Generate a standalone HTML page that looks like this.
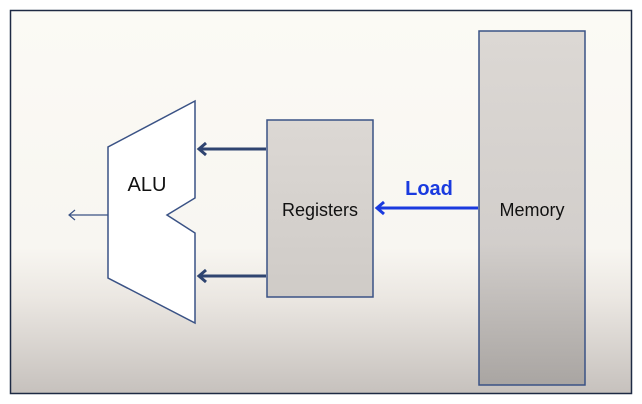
<!DOCTYPE html>
<html><head><style>
html,body{margin:0;padding:0;width:642px;height:404px;overflow:hidden;background:#fff}
</style></head><body>
<svg width="642" height="404" xmlns="http://www.w3.org/2000/svg">
<defs>
<linearGradient id="bg" x1="0" y1="0" x2="0" y2="1">
<stop offset="0" stop-color="#fbfaf5"/>
<stop offset="0.62" stop-color="#f8f6f1"/>
<stop offset="0.75" stop-color="#ebe7e2"/>
<stop offset="1" stop-color="#c6c1bd"/>
</linearGradient>
<linearGradient id="box" x1="0" y1="0" x2="0" y2="1">
<stop offset="0" stop-color="#dcd8d4"/>
<stop offset="1" stop-color="#cfcbc7"/>
</linearGradient>
<linearGradient id="mem" x1="0" y1="0" x2="0" y2="1">
<stop offset="0" stop-color="#dcd8d4"/>
<stop offset="0.6" stop-color="#d2cecb"/>
<stop offset="1" stop-color="#a9a5a2"/>
</linearGradient>
</defs>
<rect x="0" y="0" width="642" height="404" fill="#fff"/>
<rect x="10.5" y="10.5" width="621" height="383" fill="url(#bg)" stroke="#1e2a44" stroke-width="1.5"/>
<polygon points="195,101 108,147 108,278 195,323 195,233 167,215 195,198" fill="#fff" stroke="#3a5285" stroke-width="1.5"/>
<text x="147" y="191" font-family="Liberation Sans, sans-serif" font-size="20" text-anchor="middle" fill="#111">ALU</text>
<line x1="108" y1="215" x2="69" y2="215" stroke="#3a5285" stroke-width="1.2"/>
<polyline points="75,210 69,215 75,220" fill="none" stroke="#3a5285" stroke-width="1.2"/>
<rect x="267" y="120" width="106" height="177" fill="url(#box)" stroke="#3a5285" stroke-width="1.5"/>
<text x="320" y="216" font-family="Liberation Sans, sans-serif" font-size="18" text-anchor="middle" fill="#111">Registers</text>
<g stroke="#2f4470" stroke-width="3" fill="none">
<line x1="266" y1="149" x2="199" y2="149"/>
<polyline points="206,143 199,149 206,155"/>
<line x1="266" y1="276" x2="199" y2="276"/>
<polyline points="206,270 199,276 206,282"/>
</g>
<rect x="479" y="31" width="106" height="354" fill="url(#mem)" stroke="#3a5285" stroke-width="1.5"/>
<text x="532" y="216" font-family="Liberation Sans, sans-serif" font-size="18" text-anchor="middle" fill="#111">Memory</text>
<g stroke="#1a3adf" stroke-width="3" fill="none">
<line x1="478" y1="208" x2="377" y2="208"/>
<polyline points="384,202 377,208 384,214"/>
</g>
<text x="429" y="195" font-family="Liberation Sans, sans-serif" font-size="20" font-weight="bold" text-anchor="middle" fill="#1a3adf">Load</text>
</svg>
</body></html>
